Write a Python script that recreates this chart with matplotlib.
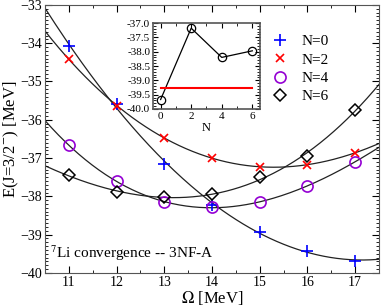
import numpy as np
import matplotlib
matplotlib.use("Agg")
from matplotlib import pyplot as plt
from matplotlib.ticker import MultipleLocator, FormatStrFormatter

plt.rcParams['font.family'] = ['Liberation Serif', 'DejaVu Serif']
plt.rcParams['mathtext.fontset'] = 'stix'

omega = [11, 12, 13, 14, 15, 16, 17]
e_n0 = [-34.07, -35.58, -37.15, -38.22, -38.93, -39.43, -39.68]
e_n2 = [-34.42, -35.63, -36.48, -36.99, -37.23, -37.18, -36.86]
e_n4 = [-36.67, -37.60, -38.15, -38.29, -38.15, -37.72, -37.10]
e_n6 = [-37.45, -37.89, -38.03, -37.94, -37.49, -36.95, -35.74]
labels = ["N=0", "N=2", "N=4", "N=6"]

# inset: minimum energy vs N, and the reference line
n_vals = [0, 2, 4, 6]
e_min = [-39.67, -37.18, -38.20, -37.97]
e_ref = -39.27

fig = plt.figure(figsize=(3.82, 3.07), dpi=100)
ax = fig.add_axes([0.118, 0.111, 0.874, 0.873])

styles = [
    dict(marker="+", color="#0000ff", ms=9, mew=1.2, mfc="none"),
    dict(marker="x", color="#ff0000", ms=6, mew=1.2, mfc="none"),
    dict(marker="o", color="#9400d3", ms=8, mew=1.2, mfc="none"),
    dict(marker="D", color="black", ms=6.5, mew=1.1, mfc="none"),
]

xs = np.linspace(10.5, 17.5, 200)
for e, st, lab in zip([e_n0, e_n2, e_n4, e_n6], styles, labels):
    p = np.polyfit(omega, e, 3)
    ax.plot(xs, np.polyval(p, xs), color="#222222", lw=0.9, zorder=1)
    ax.plot(omega, e, ls="none", label=lab, zorder=3, **st)

ax.set_xlim(10.5, 17.5)
ax.set_ylim(-40, -33)
ax.xaxis.set_major_locator(MultipleLocator(1))
ax.xaxis.set_minor_locator(MultipleLocator(0.5))
ax.yaxis.set_major_locator(MultipleLocator(1))
ax.yaxis.set_minor_locator(MultipleLocator(0.1))
ax.tick_params(which="both", direction="in", top=True, right=True, labelsize=10, pad=2)
ax.tick_params(which="major", length=5)
ax.tick_params(which="minor", length=2.5)
ax.set_xlabel(r"$\Omega$ [MeV]", fontsize=12, labelpad=0)
ax.set_ylabel(r"E(J=3/2$^{-}$) [MeV]", fontsize=12, labelpad=0)
for s in ax.spines.values():
    s.set_color("#555555")

ax.text(10.6, -39.6, r"$^{7}$Li convergence -- 3NF-A", fontsize=11)

ax.legend(loc="upper left", bbox_to_anchor=(0.636, 0.94), frameon=False,
          fontsize=11, handlelength=1.2, handletextpad=0.8, labelspacing=0.3)

ins = fig.add_axes([0.4005, 0.645, 0.280, 0.280])
ins.plot(n_vals, e_min, color="black", lw=0.9, marker="o", mfc="none", ms=6, mew=0.9)
ins.plot([0, 6], [e_ref, e_ref], color="#ff0000", lw=1.5)
ins.set_xlim(-0.5, 6.5)
ins.set_ylim(-40, -37)
ins.xaxis.set_major_locator(MultipleLocator(2))
ins.xaxis.set_minor_locator(MultipleLocator(1))
ins.yaxis.set_major_locator(MultipleLocator(0.5))
ins.yaxis.set_minor_locator(MultipleLocator(0.1))
ins.yaxis.set_major_formatter(FormatStrFormatter("%.1f"))
ins.tick_params(which="both", direction="in", top=True, right=True, labelsize=8, pad=2)
ins.tick_params(which="major", length=3.5)
ins.tick_params(which="minor", length=2)
ins.set_xlabel("N", fontsize=9, labelpad=1)
for s in ins.spines.values():
    s.set_color("#555555")
    s.set_linewidth(1.2)

fig.savefig("out.png", dpi=100)
